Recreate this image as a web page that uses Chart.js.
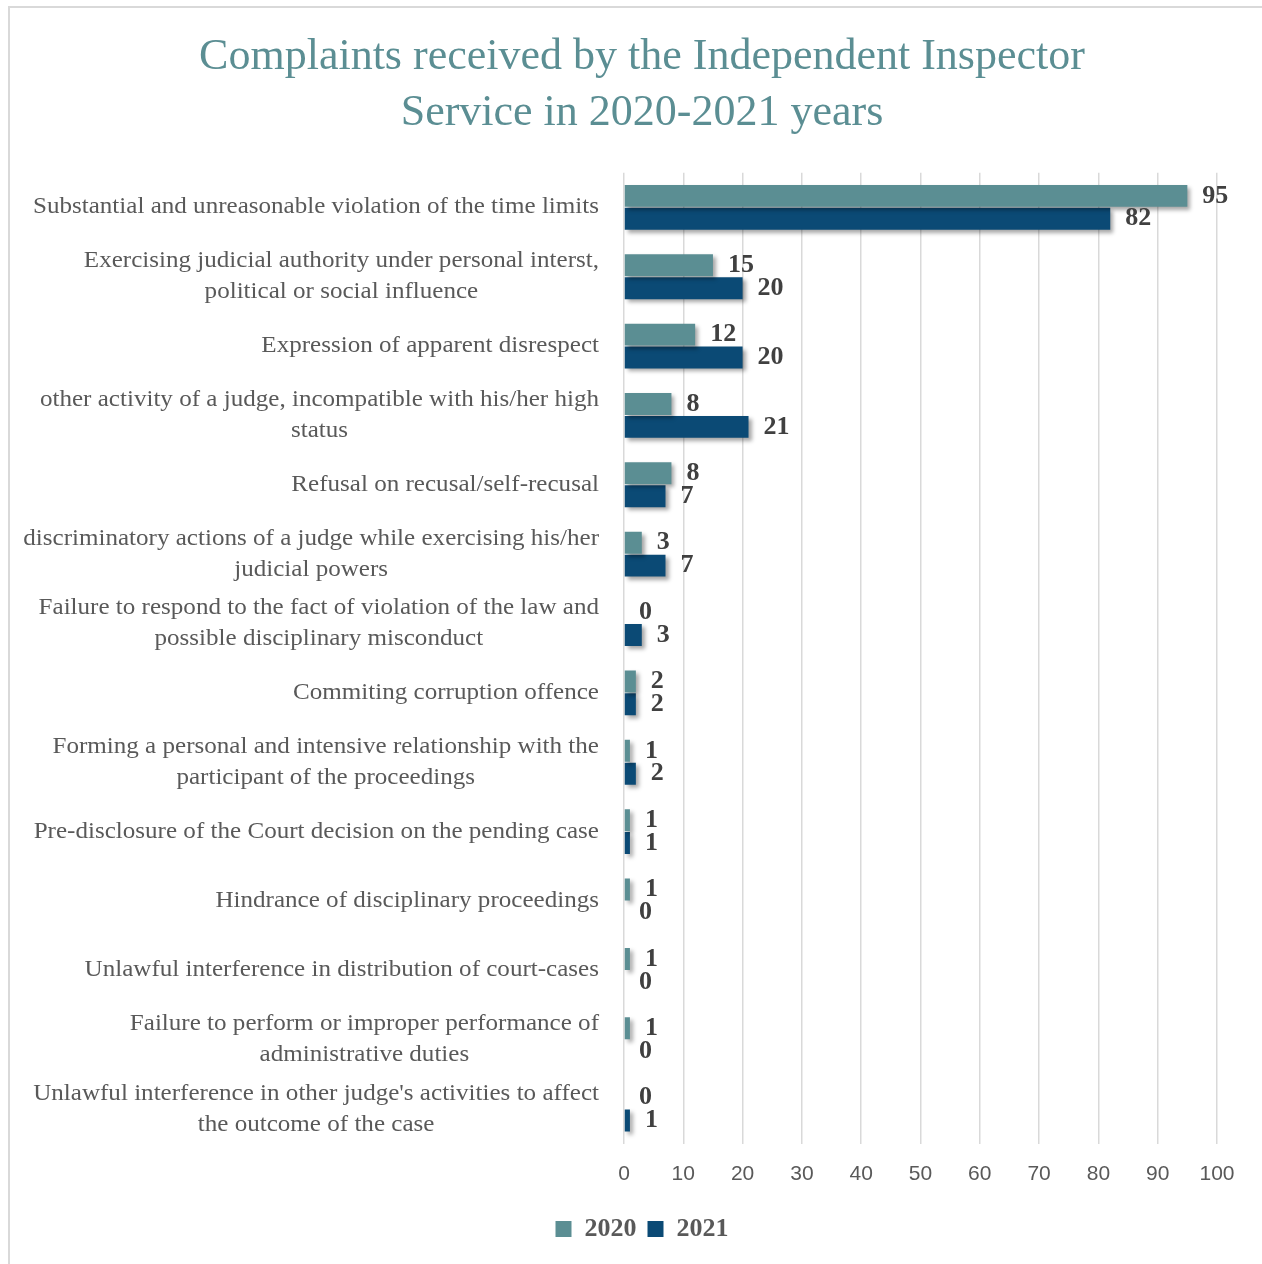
<!DOCTYPE html>
<html>
<head>
<meta charset="utf-8">
<script src="https://cdn.jsdelivr.net/npm/chart.js@4.4.1/dist/chart.umd.min.js"></script>
<style>
  html, body { margin: 0; padding: 0; background: #fff; }
  #wrap { position: relative; width: 1262px; height: 1264px; overflow: hidden; }
  #frame { position: absolute; left: 8px; top: 6px; width: 1300px; height: 1300px;
           border-left: 2px solid #d9d9d9; border-top: 2px solid #d9d9d9; }
  canvas { position: absolute; left: 0; top: 0; }
</style>
</head>
<body>
<div id="wrap">
  <div id="frame"></div>
  <canvas id="chart" width="1262" height="1264"></canvas>
</div>
<script>
// 类别（多行标签按图中换行）
const CATEGORIES = [
    ['Substantial and unreasonable violation of the time limits'],
    ['Exercising judicial authority under personal interst,', 'political or social influence'],
    ['Expression of apparent disrespect'],
    ['other activity of a judge, incompatible with his/her high', 'status'],
    ['Refusal on recusal/self-recusal'],
    ['discriminatory actions of a judge while exercising his/her', 'judicial powers'],
    ['Failure to respond to the fact of violation of the law and', 'possible disciplinary misconduct'],
    ['Commiting corruption offence'],
    ['Forming a personal and intensive relationship with the', 'participant of the proceedings'],
    ['Pre-disclosure of the Court decision on the pending case'],
    ['Hindrance of disciplinary proceedings'],
    ['Unlawful interference in distribution of court-cases'],
    ['Failure to perform or improper performance of', 'administrative duties'],
    ["Unlawful interference in other judge's activities to affect", 'the outcome of the case']
];

const VALUES_2020 = [95, 15, 12, 8, 8, 3, 0, 2, 1, 1, 1, 1, 1, 0];
const VALUES_2021 = [82, 20, 20, 21, 7, 7, 3, 2, 2, 1, 0, 0, 0, 1];

const X_TICKS = [0, 10, 20, 30, 40, 50, 60, 70, 80, 90, 100];

const COLOR_2020 = '#5B8E93';
const COLOR_2021 = '#0B4A75';
const SERIF = '"Liberation Serif", "DejaVu Serif", serif';

/**
 * 柱子阴影
 */
const shadowPlugin = {
    id: 'barShadow',
    beforeDatasetsDraw(chart) {
        const ctx = chart.ctx;
        ctx.save();
        ctx.shadowColor = 'rgba(0, 0, 0, 0.35)';
        ctx.shadowBlur = 4;
        ctx.shadowOffsetX = 3;
        ctx.shadowOffsetY = 3;
    },
    afterDatasetsDraw(chart) {
        chart.ctx.restore();
    }
};

/**
 * 手写的数值标签 + 左侧类别标签
 */
const labelPlugin = {
    id: 'labels',
    afterDraw(chart) {
        const ctx = chart.ctx;
        ctx.save();

        // 数值标签
        ctx.font = 'bold 26px ' + SERIF;
        ctx.fillStyle = '#404040';
        ctx.textAlign = 'left';
        ctx.textBaseline = 'middle';
        chart.data.datasets.forEach((ds, i) => {
            const meta = chart.getDatasetMeta(i);
            meta.data.forEach((bar, j) => {
                ctx.fillText(String(ds.data[j]), bar.x + 15, bar.y);
            });
        });

        // 类别标签：整体右对齐，行内居中（字体略微横向拉宽）
        const yScale = chart.scales.y;
        const right = 599;
        const lineH = 31;
        const sx = 1.09;
        ctx.font = '23px ' + SERIF;
        ctx.fillStyle = '#595959';
        ctx.textAlign = 'center';
        CATEGORIES.forEach((lines, j) => {
            const cy = yScale.getPixelForValue(j);
            const w = Math.max(...lines.map(l => ctx.measureText(l).width)) * sx;
            const cx = right - w / 2;
            const top = cy - (lines.length - 1) * lineH / 2;
            lines.forEach((l, k) => {
                ctx.save();
                ctx.translate(cx, top + k * lineH);
                ctx.scale(sx, 1);
                ctx.fillText(l, 0, 0);
                ctx.restore();
            });
        });
        ctx.restore();
    }
};

const ctx = document.getElementById('chart');
new Chart(ctx, {
    type: 'bar',
    data: {
        labels: CATEGORIES.map(c => c.join(' ')),
        datasets: [
            { label: '2020', data: VALUES_2020, backgroundColor: COLOR_2020 },
            { label: '2021', data: VALUES_2021, backgroundColor: COLOR_2021 }
        ]
    },
    options: {
        responsive: false,
        animation: false,
        indexAxis: 'y',
        barPercentage: 0.96,
        categoryPercentage: 0.66,
        layout: { padding: { top: 29, right: 45, bottom: 12, left: 67 } },
        plugins: {
            title: {
                display: true,
                text: ['Complaints received by the Independent Inspector', 'Service in 2020-2021 years'],
                color: COLOR_2020,
                font: { family: SERIF, size: 44, weight: 'normal', lineHeight: 1.28 },
                padding: { top: 0, bottom: 31 }
            },
            legend: {
                position: 'bottom',
                labels: {
                    color: '#595959',
                    font: { family: SERIF, size: 26, weight: 'bold' },
                    boxWidth: 16,
                    boxHeight: 16,
                    padding: 11
                }
            },
            tooltip: { enabled: false }
        },
        scales: {
            x: {
                min: 0,
                max: 100,
                afterBuildTicks(scale) {
                    scale.ticks = X_TICKS.map(v => ({ value: v }));
                },
                grid: { color: '#d9d9d9', lineWidth: 1.5, drawTicks: false },
                border: { display: false },
                ticks: {
                    color: '#595959',
                    padding: 18,
                    font: { family: '"Liberation Sans Narrow", "Liberation Sans", sans-serif', size: 21 }
                }
            },
            y: {
                grid: { display: false },
                border: { display: false },
                ticks: { display: false },
                afterFit(scale) { scale.width = 557; }
            }
        }
    },
    plugins: [shadowPlugin, labelPlugin]
});
</script>
</body>
</html>
